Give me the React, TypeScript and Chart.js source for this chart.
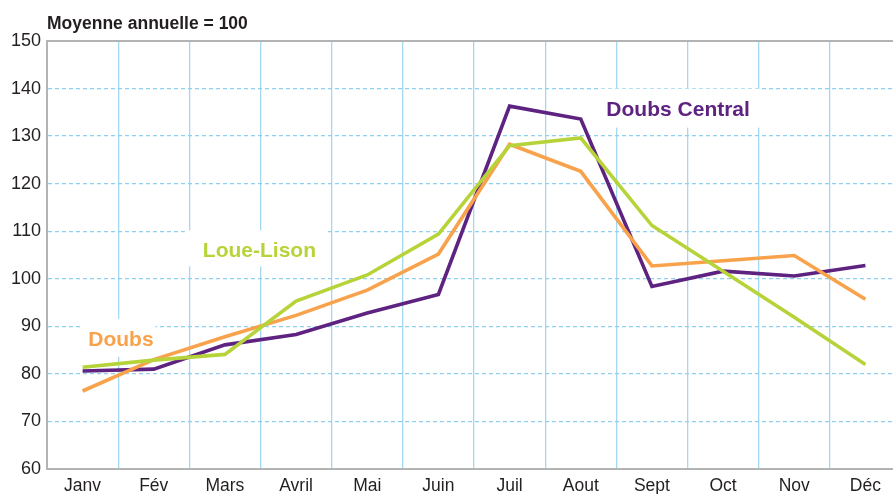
import React, { useEffect, useRef } from 'react';
import { Chart, registerables } from 'chart.js';

Chart.register(...registerables);

// ---- Data ----
const months = ['Janv', 'Fév', 'Mars', 'Avril', 'Mai', 'Juin', 'Juil', 'Aout', 'Sept', 'Oct', 'Nov', 'Déc'];
const doubsCentral = [80.6, 81.0, 86.1, 88.3, 92.8, 96.7, 136.3, 133.6, 98.4, 101.6, 100.6, 102.8];
const doubs = [76.4, 83.0, 87.8, 92.3, 97.6, 105.2, 128.3, 122.6, 102.7, 103.8, 104.9, 95.7];
const loueLison = [81.4, 82.9, 84.1, 95.3, 100.8, 109.4, 128.0, 129.6, 111.2, 101.6, 91.9, 82.0];
const yMin = 60;
const yMax = 150;
const yStep = 10;
const titleText = 'Moyenne annuelle = 100';
const seriesNames = ['Doubs Central', 'Doubs', 'Loue-Lison'];

// ---- Styles ----
const PURPLE = '#5e2281';
const ORANGE = '#f8a24b';
const GREEN = '#b6d43a';
const GRID_BLUE = '#8dd0f0';
const GRID_BLUE_V = '#a3d8f0';
const AXIS_GRAY = '#b3b3b4';
const TEXT = '#231f20';
const FONT = '"Liberation Sans", Arial, Helvetica, sans-serif';

// in-chart labels: anchor in (category index, value) units
const annotations = [
  { text: seriesNames[0], color: PURPLE, index: 7.36, value: 134.3, padL: 8, padR: 10, up: 27, down: 12 },
  { text: seriesNames[2], color: GREEN, index: 1.69, value: 104.5, padL: 18, padR: 11, up: 27, down: 9 },
  { text: seriesNames[1], color: ORANGE, index: 0.08, value: 85.9, padL: 8, padR: 2, up: 27, down: 11 },
];

const decorPlugin = {
  id: 'decor',
  beforeDatasetsDraw(chart: any) {
    const { ctx, chartArea, scales } = chart;
    ctx.save();
    // top border
    ctx.strokeStyle = AXIS_GRAY;
    ctx.lineWidth = 2;
    ctx.beginPath();
    ctx.moveTo(chartArea.left, chartArea.top);
    ctx.lineTo(chartArea.right, chartArea.top);
    ctx.stroke();
    // labels with white boxes
    ctx.font = `bold 21px ${FONT}`;
    ctx.textAlign = 'left';
    ctx.textBaseline = 'alphabetic';
    annotations.forEach((a) => {
      const x = scales.x.getPixelForValue(a.index);
      const y = scales.y.getPixelForValue(a.value);
      const w = ctx.measureText(a.text).width;
      ctx.fillStyle = '#ffffff';
      ctx.fillRect(x - a.padL, y - a.up, w + a.padL + a.padR, a.up + a.down);
      ctx.fillStyle = a.color;
      ctx.fillText(a.text, x, y);
    });
    // title
    ctx.font = `bold 17.5px ${FONT}`;
    ctx.fillStyle = TEXT;
    ctx.fillText(titleText, chartArea.left, 28.5);
    ctx.restore();
  },
};

export default function App() {
  const ref = useRef<HTMLCanvasElement | null>(null);

  useEffect(() => {
    if (!ref.current) return;
    const lineDs = (label: string, data: number[], color: string) => ({
      label,
      data,
      borderColor: color,
      backgroundColor: color,
      borderWidth: 3.6,
      pointRadius: 0,
      pointHoverRadius: 0,
      tension: 0,
      fill: false,
      borderJoinStyle: 'miter' as const,
      borderCapStyle: 'butt' as const,
    });
    const chart = new Chart(ref.current, {
      type: 'line',
      data: {
        labels: months,
        datasets: [
          lineDs(seriesNames[2], loueLison, GREEN),
          lineDs(seriesNames[1], doubs, ORANGE),
          lineDs(seriesNames[0], doubsCentral, PURPLE),
        ],
      },
      options: {
        animation: false,
        responsive: false,
        events: [],
        layout: { padding: { top: 41, left: 0, right: 0, bottom: 0 } },
        plugins: {
          legend: { display: false },
          tooltip: { enabled: false },
          title: { display: false },
        },
        scales: {
          x: {
            type: 'category',
            offset: true,
            grid: {
              offset: true,
              drawTicks: false,
              lineWidth: 1.3,
              color: (c: any) => (c.index === 0 ? 'rgba(0,0,0,0)' : GRID_BLUE_V),
            },
            border: { display: true, color: AXIS_GRAY, width: 2 },
            ticks: {
              color: TEXT,
              font: { family: FONT, size: 17.5 },
              padding: 7,
              maxRotation: 0,
              autoSkip: false,
            },
            afterFit: (s: any) => {
              s.height = 25;
            },
          },
          y: {
            min: yMin,
            max: yMax,
            grid: {
              drawTicks: false,
              lineWidth: 1.3,
              color: (c: any) =>
                c.tick && (c.tick.value === yMin || c.tick.value === yMax) ? 'rgba(0,0,0,0)' : GRID_BLUE,
            },
            border: { display: true, color: AXIS_GRAY, width: 2, dash: [4, 3] },
            ticks: {
              stepSize: yStep,
              color: TEXT,
              font: { family: FONT, size: 18 },
              padding: 6,
            },
            afterFit: (s: any) => {
              s.width = 47;
            },
          },
        },
      },
      plugins: [decorPlugin],
    });
    return () => chart.destroy();
  }, []);

  return (
    <div
      style={{
        position: 'fixed',
        left: 0,
        top: 0,
        width: 893,
        height: 494,
        overflow: 'hidden',
        background: '#ffffff',
      }}
    >
      <canvas ref={ref} width={901} height={494} style={{ display: 'block' }} />
    </div>
  );
}
